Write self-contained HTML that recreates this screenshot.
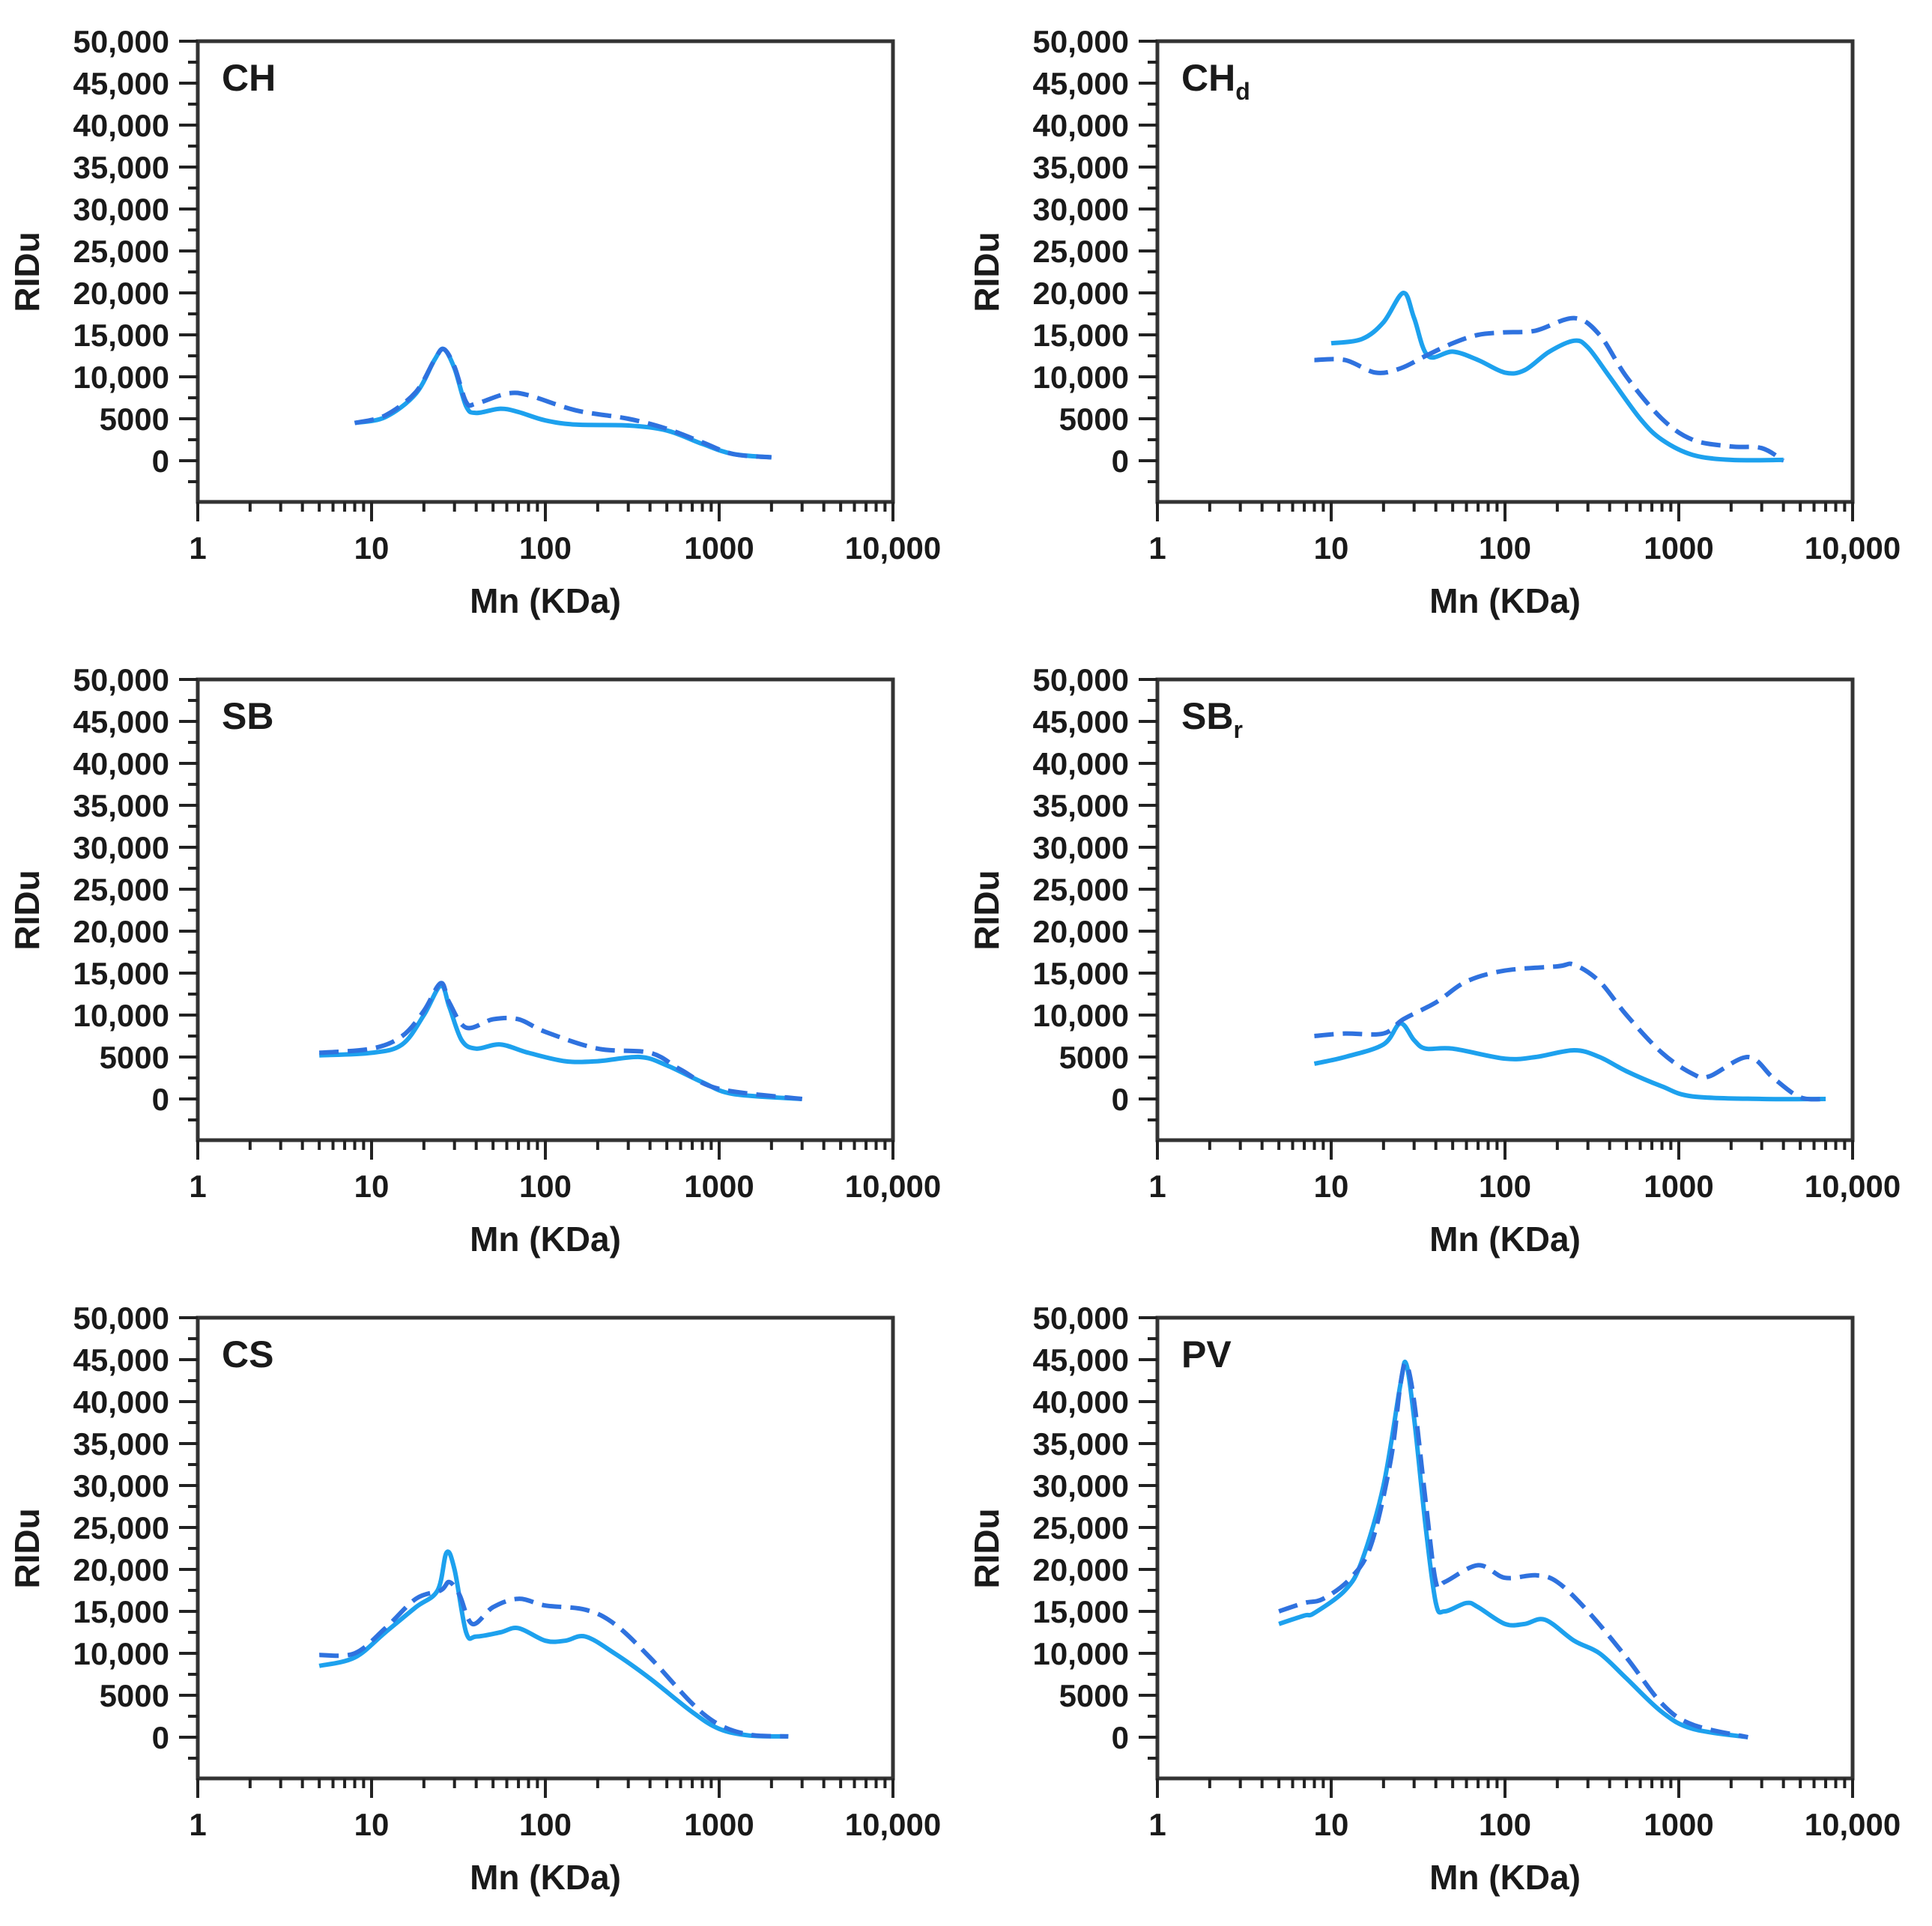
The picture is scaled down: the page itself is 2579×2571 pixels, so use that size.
<!DOCTYPE html>
<html><head><meta charset="utf-8">
<style>
html,body{margin:0;padding:0;background:#fff;}
svg{display:block;}
text{font-family:"Liberation Sans",Arial,sans-serif;font-weight:bold;fill:#1a1a1a;}
</style></head>
<body>
<svg id="fig" width="2579" height="2571" viewBox="0 0 2579 2571" xmlns="http://www.w3.org/2000/svg"></svg>
<script>
// ---- data (x in KDa, y in RIDu) ----
const panelNames = ["CH","CHd","SB","SBr","CS","PV"];
const CH_solid_x = [8,12,18,23,26,30,35,40,55,70,100,150,300,500,800,1200,2000];
const CH_solid_y = [4500,5200,8000,12000,13300,11000,6500,5700,6200,5800,4800,4300,4200,3600,2000,800,400];
const CH_dash_x = [8,12,18,23,26,30,35,40,60,80,150,300,500,800,1200,2000];
const CH_dash_y = [4500,5400,8200,12000,13300,11200,7000,6800,8000,7800,6000,5000,3800,2200,800,400];
const CHd_solid_x = [10,15,20,26,30,36,50,70,100,130,180,250,300,400,600,800,1200,2000,4000];
const CHd_solid_y = [14000,14500,16500,20000,17000,12500,13000,12000,10500,10800,13000,14300,13500,10000,5000,2500,700,100,100];
const CHd_dash_x = [8,12,18,25,35,50,70,100,150,250,350,500,800,1200,2000,3000,4000];
const CHd_dash_y = [12000,12000,10500,11000,12500,14000,15000,15300,15500,17000,15000,10000,5000,2500,1700,1500,0];
const SB_solid_x = [5,10,15,20,25,28,33,40,55,80,130,200,350,500,800,1200,3000];
const SB_solid_y = [5200,5500,6500,10000,13500,11000,7000,6000,6500,5500,4500,4500,5000,4000,2000,600,0];
const SB_dash_x = [5,10,15,20,25,28,35,50,70,100,200,400,600,1000,3000];
const SB_dash_y = [5500,6000,7500,10500,13800,11500,8500,9500,9500,8000,6000,5500,3500,1200,0];
const SBr_solid_x = [8,12,20,25,30,35,50,100,150,250,350,500,800,1200,3000,7000];
const SBr_solid_y = [4200,5000,6500,9000,7000,6000,6000,4800,5000,5800,5000,3300,1500,300,0,0];
const SBr_dash_x = [8,12,20,26,40,60,100,200,250,350,500,800,1200,1500,2500,3500,5000,7000];
const SBr_dash_y = [7500,7800,7800,9500,11500,14000,15300,15800,16000,14000,10000,5500,3000,2700,5000,2500,200,0];
const CS_solid_x = [5,8,12,18,24,27,30,35,40,55,70,100,130,170,250,400,700,1000,1500,2500];
const CS_solid_y = [8500,9500,12500,15500,17500,22000,20000,12500,12000,12500,13000,11500,11500,12000,10000,7000,3000,1000,200,100];
const CS_dash_x = [5,8,12,18,25,28,32,38,50,70,100,170,250,400,700,1000,1500,2500];
const CS_dash_y = [9800,10000,13000,16500,17500,18500,17000,13500,15500,16500,15700,15200,13500,9500,4000,1500,300,100];
const PV_solid_x = [5,7,8,12,15,20,25,27,30,35,40,45,60,70,100,130,170,250,350,500,800,1200,2500];
const PV_solid_y = [13500,14500,14800,17500,21000,30000,42000,44500,38000,25000,16000,15000,16000,15500,13500,13500,14000,11500,10000,7000,3000,1000,0];
const PV_dash_x = [5,7,9,13,17,22,25,27,30,35,40,45,70,100,150,200,300,500,800,1200,2500];
const PV_dash_y = [15000,16000,16500,19000,23000,33000,42000,44500,40000,28000,18500,18500,20500,19000,19300,18500,15000,9500,4000,1500,0];
const yTickValues = [0,5000,10000,15000,20000,25000,30000,35000,40000,45000,50000];
const yTickLabels = ["0","5000","10,000","15,000","20,000","25,000","30,000","35,000","40,000","45,000","50,000"];
const xTickValues = [1,10,100,1000,10000];
const xTickLabels = ["1","10","100","1000","10,000"];

const series = {
  CH:[[CH_solid_x,CH_solid_y],[CH_dash_x,CH_dash_y]],
  CHd:[[CHd_solid_x,CHd_solid_y],[CHd_dash_x,CHd_dash_y]],
  SB:[[SB_solid_x,SB_solid_y],[SB_dash_x,SB_dash_y]],
  SBr:[[SBr_solid_x,SBr_solid_y],[SBr_dash_x,SBr_dash_y]],
  CS:[[CS_solid_x,CS_solid_y],[CS_dash_x,CS_dash_y]],
  PV:[[PV_solid_x,PV_solid_y],[PV_dash_x,PV_dash_y]]
};

const NS="http://www.w3.org/2000/svg";
const svg=document.getElementById('fig');
function mk(tag,attrs,parent){const e=document.createElementNS(NS,tag);for(const k in attrs)e.setAttribute(k,attrs[k]);(parent||svg).appendChild(e);return e;}

const colLeft=[264,1545], rowTop=[55,907,1759];
const W=928, decade=W/4, pxPer1000=11.2, zeroOff=560, H=615;

function catmull(pts){
  let d="M"+pts[0][0].toFixed(1)+","+pts[0][1].toFixed(1);
  for(let i=0;i<pts.length-1;i++){
    const p0=pts[i-1]||pts[i],p1=pts[i],p2=pts[i+1],p3=pts[i+2]||p2;
    const c1=[p1[0]+(p2[0]-p0[0])/6,p1[1]+(p2[1]-p0[1])/6];
    const c2=[p2[0]-(p3[0]-p1[0])/6,p2[1]-(p3[1]-p1[1])/6];
    d+=" C"+c1[0].toFixed(1)+","+c1[1].toFixed(1)+" "+c2[0].toFixed(1)+","+c2[1].toFixed(1)+" "+p2[0].toFixed(1)+","+p2[1].toFixed(1);
  }
  return d;
}

panelNames.forEach((name,idx)=>{
  const L=colLeft[idx%2], T=rowTop[Math.floor(idx/2)];
  const R=L+W, B=T+H, Z=T+zeroOff;
  const xs=v=>L+Math.log10(v)*decade;
  const ys=v=>Z-v/1000*pxPer1000;
  const g=mk('g',{});
  
  
  const frame=mk('rect',{x:L,y:T,width:W,height:H,fill:'none',stroke:'#333',"stroke-width":5},g);
  
  
  for(let v=-2500;v<=50000;v+=2500){
    const major=(v%5000===0);
    const t=mk('line',{x1:L-(major?25:13),x2:L,y1:ys(v),y2:ys(v),stroke:'#222',"stroke-width":4},g);
    
    
  }
  yTickValues.forEach((v,i)=>{
    const t=mk('text',{x:L-38,y:ys(v)+15,"text-anchor":"end","font-size":42},g);
    t.textContent=yTickLabels[i];
    
    
  });
  for(let d=0;d<4;d++){
    for(let m=2;m<=9;m++){
      const v=Math.pow(10,d)*m;
      const t=mk('line',{x1:xs(v),x2:xs(v),y1:B,y2:B+13,stroke:'#222',"stroke-width":4},g);
      
      
    }
  }
  xTickValues.forEach((v,i)=>{
    const t=mk('line',{x1:xs(v),x2:xs(v),y1:B,y2:B+26,stroke:'#222',"stroke-width":4},g);
    
    
    const l=mk('text',{x:xs(v),y:B+76,"text-anchor":"middle","font-size":42},g);
    l.textContent=xTickLabels[i];
    
    
  });
  const xt=mk('text',{x:L+W/2,y:B+148,"text-anchor":"middle","font-size":46},g);
  xt.textContent="Mn (KDa)";
  
  
  const cx=L-212, cy=T+308;
  const yt=mk('text',{x:cx,y:cy,"text-anchor":"middle","font-size":46,transform:`rotate(-90 ${cx} ${cy})`},g);
  yt.textContent="RIDu";
  
  
  const pl=mk('text',{x:L+32,y:T+66,"font-size":50},g);
  
  
  if(name==="CHd"){pl.textContent="CH";const s=mk('tspan',{"font-size":32,dy:12},pl);s.textContent="d";}
  else if(name==="SBr"){pl.textContent="SB";const s=mk('tspan',{"font-size":32,dy:12},pl);s.textContent="r";}
  else pl.textContent=name;
  const [sol,dsh]=series[name];
  const p1=mk('path',{d:catmull(sol[0].map((x,i)=>[xs(x),ys(sol[1][i])])),fill:'none',stroke:'#1da1ee',"stroke-width":6,"stroke-linejoin":"round"},g);
  
  
  const p2=mk('path',{d:catmull(dsh[0].map((x,i)=>[xs(x),ys(dsh[1][i])])),fill:'none',stroke:'#2f72df',"stroke-width":6,"stroke-dasharray":"26 12","stroke-linejoin":"round"},g);
  
  
});
</script>
</body></html>
